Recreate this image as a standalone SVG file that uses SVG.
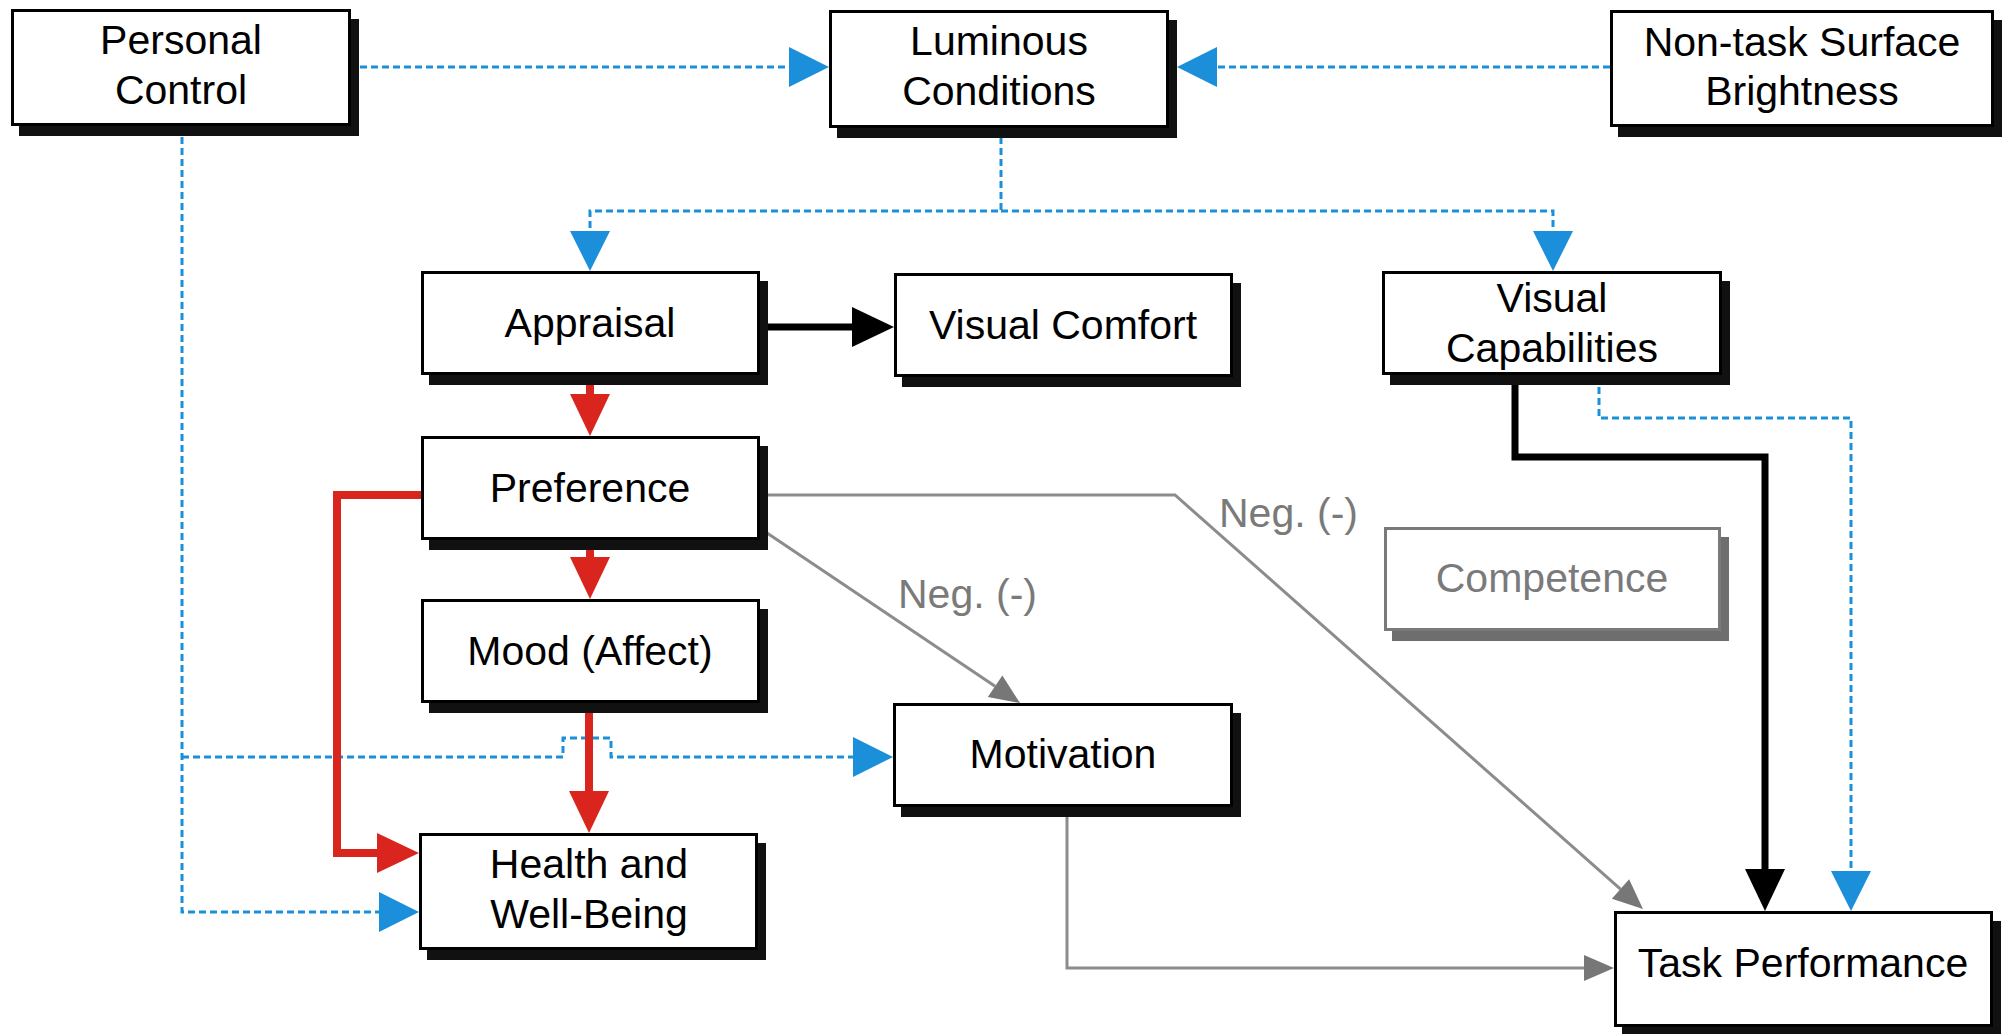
<svg xmlns="http://www.w3.org/2000/svg" width="2007" height="1034" viewBox="0 0 2007 1034">
<style>
  .box{fill:#ffffff;stroke:#000000;stroke-width:3}
  .shadow{fill:#111111}
  .gbox{fill:#ffffff;stroke:#7a7a7a;stroke-width:3}
  .gshadow{fill:#6e6e6e}
  .t{font-family:"Liberation Sans",Arial,Helvetica,sans-serif;font-size:41px;fill:#000000;text-anchor:middle}
  .gt{font-family:"Liberation Sans",Arial,Helvetica,sans-serif;font-size:41px;fill:#7a7a7a}
  .blue{fill:none;stroke:#1B8FD9;stroke-width:3;stroke-dasharray:7 4}
  .red{fill:none;stroke:#D9251D;stroke-width:8}
  .black{fill:none;stroke:#000000;stroke-width:7}
  .gray{fill:none;stroke:#8c8c8c;stroke-width:3}
</style>
<defs>
  <marker id="mBlue" markerUnits="userSpaceOnUse" markerWidth="40" markerHeight="40" refX="0" refY="20" orient="auto" overflow="visible">
    <path d="M0,0 L40,20 L0,40 z" fill="#1B8FD9"/>
  </marker>
  <marker id="mRed" markerUnits="userSpaceOnUse" markerWidth="42" markerHeight="40" refX="0" refY="20" orient="auto" overflow="visible">
    <path d="M0,0 L42,20 L0,40 z" fill="#D9251D"/>
  </marker>
  <marker id="mBlack" markerUnits="userSpaceOnUse" markerWidth="42" markerHeight="40" refX="0" refY="20" orient="auto" overflow="visible">
    <path d="M0,0 L42,20 L0,40 z" fill="#000000"/>
  </marker>
  <marker id="mGray" markerUnits="userSpaceOnUse" markerWidth="30" markerHeight="26" refX="0" refY="13" orient="auto" overflow="visible">
    <path d="M0,0 L30,13 L0,26 z" fill="#777777"/>
  </marker>
</defs>
<rect width="2007" height="1034" fill="#ffffff"/>

<g id="connectors">
  <path class="blue" d="M360,67 H789" marker-end="url(#mBlue)"/>
  <path class="blue" d="M1610,67 H1217" marker-end="url(#mBlue)"/>
  <path class="blue" d="M1001,137 V211 H590 V231" marker-end="url(#mBlue)"/>
  <path class="blue" d="M1001,211 H1553 V231" marker-end="url(#mBlue)"/>
  <path class="blue" d="M1599,387 V418 H1851 V871" marker-end="url(#mBlue)"/>
  <path class="blue" d="M182,137 V912 H379" marker-end="url(#mBlue)"/>
  <path class="blue" d="M182,757 H563 V738 H611 V757 H853" marker-end="url(#mBlue)"/>

  <path class="red" d="M590,385 V394" marker-end="url(#mRed)"/>
  <path class="red" d="M590,550 V557" marker-end="url(#mRed)"/>
  <path class="red" d="M589,713 V791" marker-end="url(#mRed)"/>
  <path class="red" d="M421,495 H337 V853 H377" marker-end="url(#mRed)"/>

  <path class="black" d="M767,327 H852" marker-end="url(#mBlack)"/>
  <path class="black" d="M1515,385 V457 H1765 V869" marker-end="url(#mBlack)"/>

  <path class="gray" d="M767,495 H1175 L1620.5,889.1" marker-end="url(#mGray)"/>
  <path class="gray" d="M767,533 L995.1,686.3" marker-end="url(#mGray)"/>
  <path class="gray" d="M1067,817 V968 H1584" marker-end="url(#mGray)"/>

  <text class="gt" x="898" y="608">Neg. (-)</text>
  <text class="gt" x="1219" y="527">Neg. (-)</text>
</g>

<g id="personal-control">
  <rect class="shadow" x="19" y="19" width="340" height="117"/>
  <rect class="box" x="12.5" y="10.5" width="337" height="114"/>
  <text class="t" x="181" y="54">Personal</text>
  <text class="t" x="181" y="104">Control</text>
</g>
<g id="luminous-conditions">
  <rect class="shadow" x="837" y="20" width="340" height="118"/>
  <rect class="box" x="830.5" y="11.5" width="337" height="115"/>
  <text class="t" x="999" y="55">Luminous</text>
  <text class="t" x="999" y="105">Conditions</text>
</g>
<g id="non-task-surface-brightness">
  <rect class="shadow" x="1618" y="20" width="384" height="117"/>
  <rect class="box" x="1611.5" y="11.5" width="381" height="114"/>
  <text class="t" x="1802" y="56">Non-task Surface</text>
  <text class="t" x="1802" y="105">Brightness</text>
</g>
<g id="appraisal">
  <rect class="shadow" x="429" y="281" width="339" height="104"/>
  <rect class="box" x="422.5" y="272.5" width="336" height="101"/>
  <text class="t" x="590" y="337">Appraisal</text>
</g>
<g id="visual-comfort">
  <rect class="shadow" x="902" y="283" width="339" height="104"/>
  <rect class="box" x="895.5" y="274.5" width="336" height="101"/>
  <text class="t" x="1063" y="339">Visual Comfort</text>
</g>
<g id="visual-capabilities">
  <rect class="shadow" x="1390" y="281" width="340" height="104"/>
  <rect class="box" x="1383.5" y="272.5" width="337" height="101"/>
  <text class="t" x="1552" y="312">Visual</text>
  <text class="t" x="1552" y="362">Capabilities</text>
</g>
<g id="preference">
  <rect class="shadow" x="429" y="446" width="339" height="104"/>
  <rect class="box" x="422.5" y="437.5" width="336" height="101"/>
  <text class="t" x="590" y="502">Preference</text>
</g>
<g id="competence">
  <rect class="gshadow" x="1392" y="537" width="337" height="104"/>
  <rect class="gbox" x="1385.5" y="528.5" width="334" height="101"/>
  <text class="gt" x="1552" y="592" text-anchor="middle">Competence</text>
</g>
<g id="mood">
  <rect class="shadow" x="429" y="609" width="339" height="104"/>
  <rect class="box" x="422.5" y="600.5" width="336" height="101"/>
  <text class="t" x="590" y="665">Mood (Affect)</text>
</g>
<g id="motivation">
  <rect class="shadow" x="901" y="713" width="340" height="104"/>
  <rect class="box" x="894.5" y="704.5" width="337" height="101"/>
  <text class="t" x="1063" y="768">Motivation</text>
</g>
<g id="health">
  <rect class="shadow" x="427" y="843" width="339" height="117"/>
  <rect class="box" x="420.5" y="834.5" width="336" height="114"/>
  <text class="t" x="589" y="878">Health and</text>
  <text class="t" x="589" y="928">Well-Being</text>
</g>
<g id="task-performance">
  <rect class="shadow" x="1622" y="921" width="379" height="116"/>
  <rect class="box" x="1615.5" y="912.5" width="376" height="113"/>
  <text class="t" x="1803" y="977">Task Performance</text>
</g>
</svg>
